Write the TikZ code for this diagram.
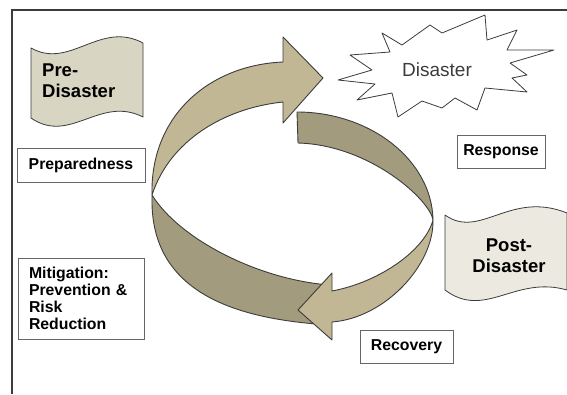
\documentclass[tikz,border=0pt]{standalone}
\usepackage{fontspec}
\setmainfont{Liberation Sans}
\definecolor{bandlight}{HTML}{C2B794}
\definecolor{banddark}{HTML}{A39B7D}
\definecolor{flagpre}{HTML}{D9D5C3}
\definecolor{flagpost}{HTML}{EBE9E0}
\definecolor{edge}{HTML}{3C3C3C}
\tikzset{
  band/.style={draw=edge,line width=0.9pt,line join=round},
  outline/.style={draw=edge,line width=0.8pt,line join=round},
  stagebox/.style={draw=gray!80!black,line width=0.8pt,inner sep=0pt,
    font=\bfseries\fontsize{15.8}{17}\selectfont},
  flagtext/.style={inner sep=0pt,font=\bfseries\fontsize{18.5}{21}\selectfont}
}
\begin{document}
\begin{tikzpicture}[x=1pt,y=-1pt]
	\useasboundingbox (0,0) rectangle (567,394);
	\draw[line width=2pt,edge] (12,394) -- (12,10) -- (567,10);
	% ring, back half
	\filldraw[band,fill=banddark] (297,112) .. controls (370,112) and (432,160) .. (433,220)
		.. controls (430,200) and (370,145) .. (298,143) -- cycle;
	\filldraw[band,fill=bandlight] (152,195) .. controls (150,115) and (210,65) .. (283,62)
		-- (283,37) -- (323,78) -- (283,123) -- (283,102)
		.. controls (225,108) and (170,140) .. (152,195) -- cycle;
	% ring, front half
	\filldraw[band,fill=banddark] (152,195) .. controls (180,240) and (260,280) .. (330,285)
		-- (330,325) .. controls (250,320) and (150,300) .. (152,198) -- cycle;
	\filldraw[band,fill=bandlight] (433,220) .. controls (434,265) and (385,318) .. (332,322)
		-- (332,340) -- (298,310) -- (332,273) -- (332,291)
		.. controls (380,282) and (425,250) .. (433,220) -- cycle;
	% flags
	\filldraw[outline,fill=flagpre] (31,48) .. controls (70,70) and (100,20) .. (143,43)
		-- (143,117) .. controls (100,95) and (70,145) .. (31,118) -- cycle;
	\node[flagtext,align=left,anchor=west] (pre) at (42,81) {Pre-\\Disaster};
	\filldraw[outline,fill=flagpost] (445,215) .. controls (480,240) and (510,190) .. (567,213)
		-- (567,290) .. controls (515,275) and (485,320) .. (445,290) -- cycle;
	\node[flagtext,align=center] (post) at (509,256) {Post-\\Disaster};
	% burst
	\filldraw[outline,fill=white] (382,33) -- (402,45) -- (430,25) -- (442,33) -- (485,15)
		-- (487,40) -- (517,30) -- (507,50) -- (554,50) -- (510,63) -- (527,75) -- (512,78)
		-- (527,92) -- (485,88) -- (477,110) -- (455,98) -- (442,108) -- (422,101)
		-- (398,117) -- (392,93) -- (357,100) -- (375,84) -- (338,80) -- (372,70)
		-- (350,55) -- (390,52) -- cycle;
	\node[inner sep=0pt,font=\fontsize{19}{21}\selectfont,text=edge] (dis) at (437,70) {Disaster};
	% stages
	\node[stagebox,minimum width=128pt,minimum height=34pt] (prep) at (81,165) {Preparedness};
	\node[stagebox,inner xsep=11pt,text width=104pt,minimum height=81pt,align=left] (mitig)
		[below of=prep,node distance=133.5pt] {Mitigation:\\Prevention \&\\Risk\\Reduction};
	\node[stagebox,minimum width=88pt,minimum height=33pt] (resp) at (501,151.5) {Response};
	\node[stagebox,minimum width=93pt,minimum height=33pt] (recov) at (406.5,346.5) {Recovery};
\end{tikzpicture}
\end{document}
